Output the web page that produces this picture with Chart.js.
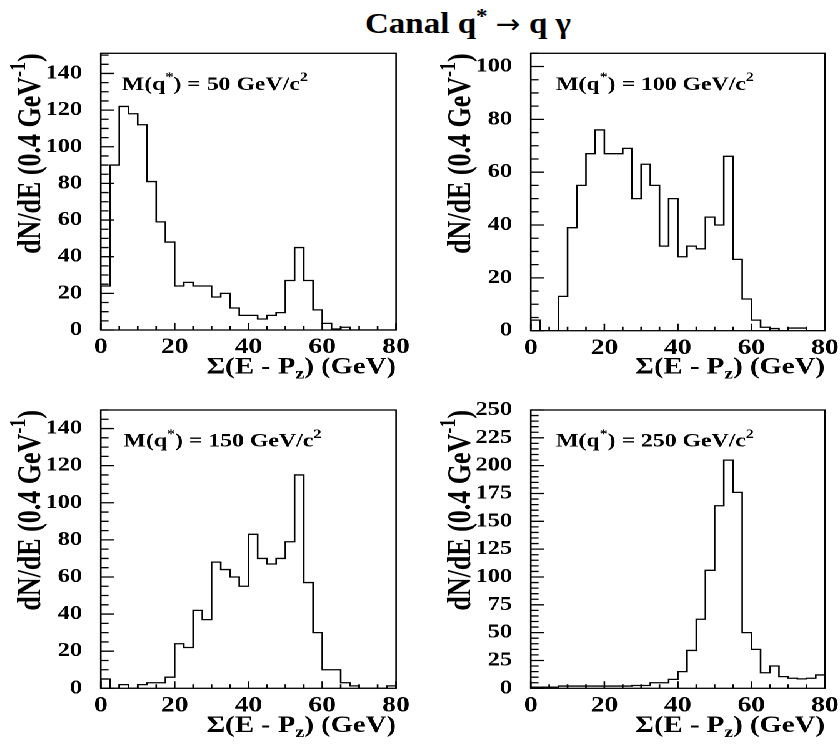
<!DOCTYPE html>
<html>
<head>
<meta charset="utf-8">
<script src="https://cdn.jsdelivr.net/npm/chart.js@4.4.0/dist/chart.umd.min.js"></script>
<style>
  html, body { margin: 0; padding: 0; background: #fff; }
  /* the reference figure is stretched horizontally, so draw narrow and scale x */
  #fig { position: absolute; left: 0; top: 0; width: 672px; height: 744px; transform: scaleX(1.25); transform-origin: 0 0; }
  #fig canvas { position: absolute; }
  #title { position: absolute; left: 468px; top: 8px; white-space: nowrap; color: #000;
           font-family: "Liberation Serif", "Times New Roman", serif; font-weight: bold; font-size: 30px;
           line-height: 30px; transform: translateX(-50%) scaleX(1.1); transform-origin: center top; }
  #title sup { font-size: 0.7em; vertical-align: 0; position: relative; top: -0.5em; }
  #title .arr { font-family: "DejaVu Sans", sans-serif; font-weight: normal; font-size: 0.9em; }
</style>
</head>
<body>
<div id="title">Canal q<sup>*</sup> <span class="arr">→</span> q γ</div>
<div id="fig">
  <canvas id="c1" width="336" height="345" style="left:0;top:40px"></canvas>
  <canvas id="c2" width="336" height="345" style="left:336px;top:40px"></canvas>
  <canvas id="c3" width="336" height="349" style="left:0;top:395px"></canvas>
  <canvas id="c4" width="336" height="349" style="left:336px;top:395px"></canvas>
</div>
<script>
// bins of 2.5 GeV from 0 to 80
const binLow = Array.from({ length: 32 }, (_, i) => i * 2.5);
const xTicks = [0, 20, 40, 60, 80];

const m50 = [24, 90, 122, 118, 112, 81, 59, 48, 24, 26, 24, 24, 18, 20, 12, 8,
             8, 6, 8, 9.5, 27, 45, 27, 11, 3.6, 0.5, 1.5, 0, 0, 0, 0, 0];
const m100 = [4, 0, 0, 13, 39, 55, 67, 76, 67, 67, 69, 50, 63, 55, 32, 50,
              28, 32, 31, 43, 40, 66, 27, 12, 4, 1.3, 0.8, 0, 1, 1, 0, 0];
const m150 = [5, 0, 2, 0, 2, 3, 3, 6, 24, 22, 42, 37, 68, 64, 60, 55,
              83, 70, 67, 70, 79, 115, 57, 30, 10, 10, 3, 1.3, 0, 0, 0, 1.3];
const m250 = [1, 1, 1, 2, 2, 2, 2, 2, 2, 2, 2, 2.5, 2.5, 5, 5, 8,
              15, 34, 62, 106, 164, 205, 176, 50, 35, 14, 20, 10.5, 9, 8.5, 9, 12];

const yTicks150 = [0, 20, 40, 60, 80, 100, 120, 140];
const yTicks100 = [0, 20, 40, 60, 80, 100];
const yTicks250 = [0, 25, 50, 75, 100, 125, 150, 175, 200, 225, 250];

const xTitle = [['Σ(E - P', 0], ['z', -1], [') (GeV)', 0]];
const yTitle = [['dN/dE (0.4 GeV', 0], ['-1', 1], [')', 0]];
const massLabel = m => [['M(q', 0], ['*', 1], [') = ' + m + ' GeV/c', 0], ['2', 1]];

const FONT = '"Liberation Serif", "Times New Roman", serif';

function richText(ctx, parts, x, y, size, align) {
  const big = 'bold ' + size + 'px ' + FONT;
  const small = 'bold ' + Math.round(size * 0.7) + 'px ' + FONT;
  let w = 0;
  parts.forEach(p => { ctx.font = p[1] ? small : big; w += ctx.measureText(p[0]).width; });
  let cx = align === 'right' ? x - w : x;
  ctx.textAlign = 'left';
  ctx.textBaseline = 'alphabetic';
  parts.forEach(p => {
    ctx.font = p[1] ? small : big;
    const dy = p[1] === 1 ? -size * 0.47 : p[1] === -1 ? size * 0.22 : 0;
    ctx.fillText(p[0], cx, y + dy);
    cx += ctx.measureText(p[0]).width;
  });
}

const framePlugin = {
  id: 'frame',
  afterDatasetsDraw(chart, args, o) {
    const { ctx, chartArea: a, scales: { x, y } } = chart;
    ctx.save();
    ctx.strokeStyle = '#000';
    ctx.lineWidth = 1.3;
    ctx.strokeRect(a.left, a.top, a.right - a.left, a.bottom - a.top);
    ctx.beginPath();
    for (let v = 0; v <= x.max; v += 5) {
      const px = x.getPixelForValue(v);
      ctx.moveTo(px, a.bottom);
      ctx.lineTo(px, a.bottom - (v % 20 === 0 ? 7 : 4));
    }
    for (let v = 0; v <= y.max; v += o.yMinor) {
      const py = y.getPixelForValue(v);
      ctx.moveTo(a.left, py);
      ctx.lineTo(a.left + (v % o.yMajor === 0 ? 10.4 : 6.2), py);
    }
    ctx.stroke();
    ctx.fillStyle = '#000';
    richText(ctx, o.label, o.labelX, o.labelY, 19, 'left');
    richText(ctx, xTitle, a.right, o.xTitleY, 23, 'right');
    ctx.translate(o.yTitleX, a.top);
    ctx.rotate(-Math.PI / 2);
    richText(ctx, yTitle, 0, 0, 26, 'right');
    ctx.restore();
  }
};

function makeHist(id, values, yMax, yTicks, yMajor, geo, label) {
  const canvas = document.getElementById(id);
  const pts = [{ x: 0, y: 0 }];
  binLow.forEach((b, i) => pts.push({ x: b, y: values[i] }));
  pts.push({ x: 80, y: values[values.length - 1] });
  pts.push({ x: 80, y: 0 });
  new Chart(canvas, {
    type: 'line',
    data: {
      datasets: [{
        data: pts,
        stepped: 'before',
        borderColor: '#000',
        borderWidth: 1.3,
        pointRadius: 0,
        fill: false
      }]
    },
    options: {
      responsive: false,
      animation: false,
      devicePixelRatio: 2,
      events: [],
      layout: { padding: { left: 0, top: geo.top, right: geo.right, bottom: 0 } },
      plugins: {
        legend: { display: false },
        tooltip: { enabled: false },
        frame: {
          yMinor: 5, yMajor: yMajor, label: label,
          labelX: geo.labelX, labelY: geo.labelY, xTitleY: geo.xTitleY, yTitleX: geo.yTitleX
        }
      },
      scales: {
        x: {
          type: 'linear', min: 0, max: 80,
          afterBuildTicks: s => { s.ticks = xTicks.map(v => ({ value: v })); },
          afterFit: s => { s.height = geo.xH; },
          grid: { drawOnChartArea: false, drawTicks: true, tickLength: 6.5, tickColor: 'rgba(0,0,0,0)' },
          border: { display: false },
          ticks: { color: '#000', font: { family: FONT, weight: 'bold', size: 22, lineHeight: 1 }, padding: 0, maxRotation: 0 }
        },
        y: {
          min: 0, max: yMax,
          afterBuildTicks: s => { s.ticks = yTicks.map(v => ({ value: v })); },
          afterFit: s => { s.width = geo.left; },
          grid: { drawOnChartArea: false, drawTicks: true, tickLength: 15, tickColor: 'rgba(0,0,0,0)' },
          border: { display: false },
          ticks: { color: '#000', font: { family: FONT, weight: 'bold', size: 19.5, lineHeight: 1 }, padding: 0 }
        }
      }
    },
    plugins: [framePlugin]
  });
}

makeHist('c1', m50, 151, yTicks150, 20,
  { left: 80.6, top: 13.3, right: 19.2, xH: 55, labelX: 97.4, labelY: 50, xTitleY: 333.5, yTitleX: 32 },
  massLabel(50));
makeHist('c2', m100, 105, yTicks100, 20,
  { left: 88.6, top: 13.3, right: 12, xH: 54.3, labelX: 108.8, labelY: 50, xTitleY: 333.5, yTitleX: 40 },
  massLabel(100));
makeHist('c3', m150, 150, yTicks150, 20,
  { left: 80.6, top: 15, right: 19.2, xH: 55.7, labelX: 98.7, labelY: 51.7, xTitleY: 336.8, yTitleX: 32 },
  massLabel(150));
makeHist('c4', m250, 250, yTicks250, 25,
  { left: 88.6, top: 15, right: 12, xH: 55.7, labelX: 108.8, labelY: 51.7, xTitleY: 336.8, yTitleX: 40 },
  massLabel(250));
</script>
</body>
</html>
